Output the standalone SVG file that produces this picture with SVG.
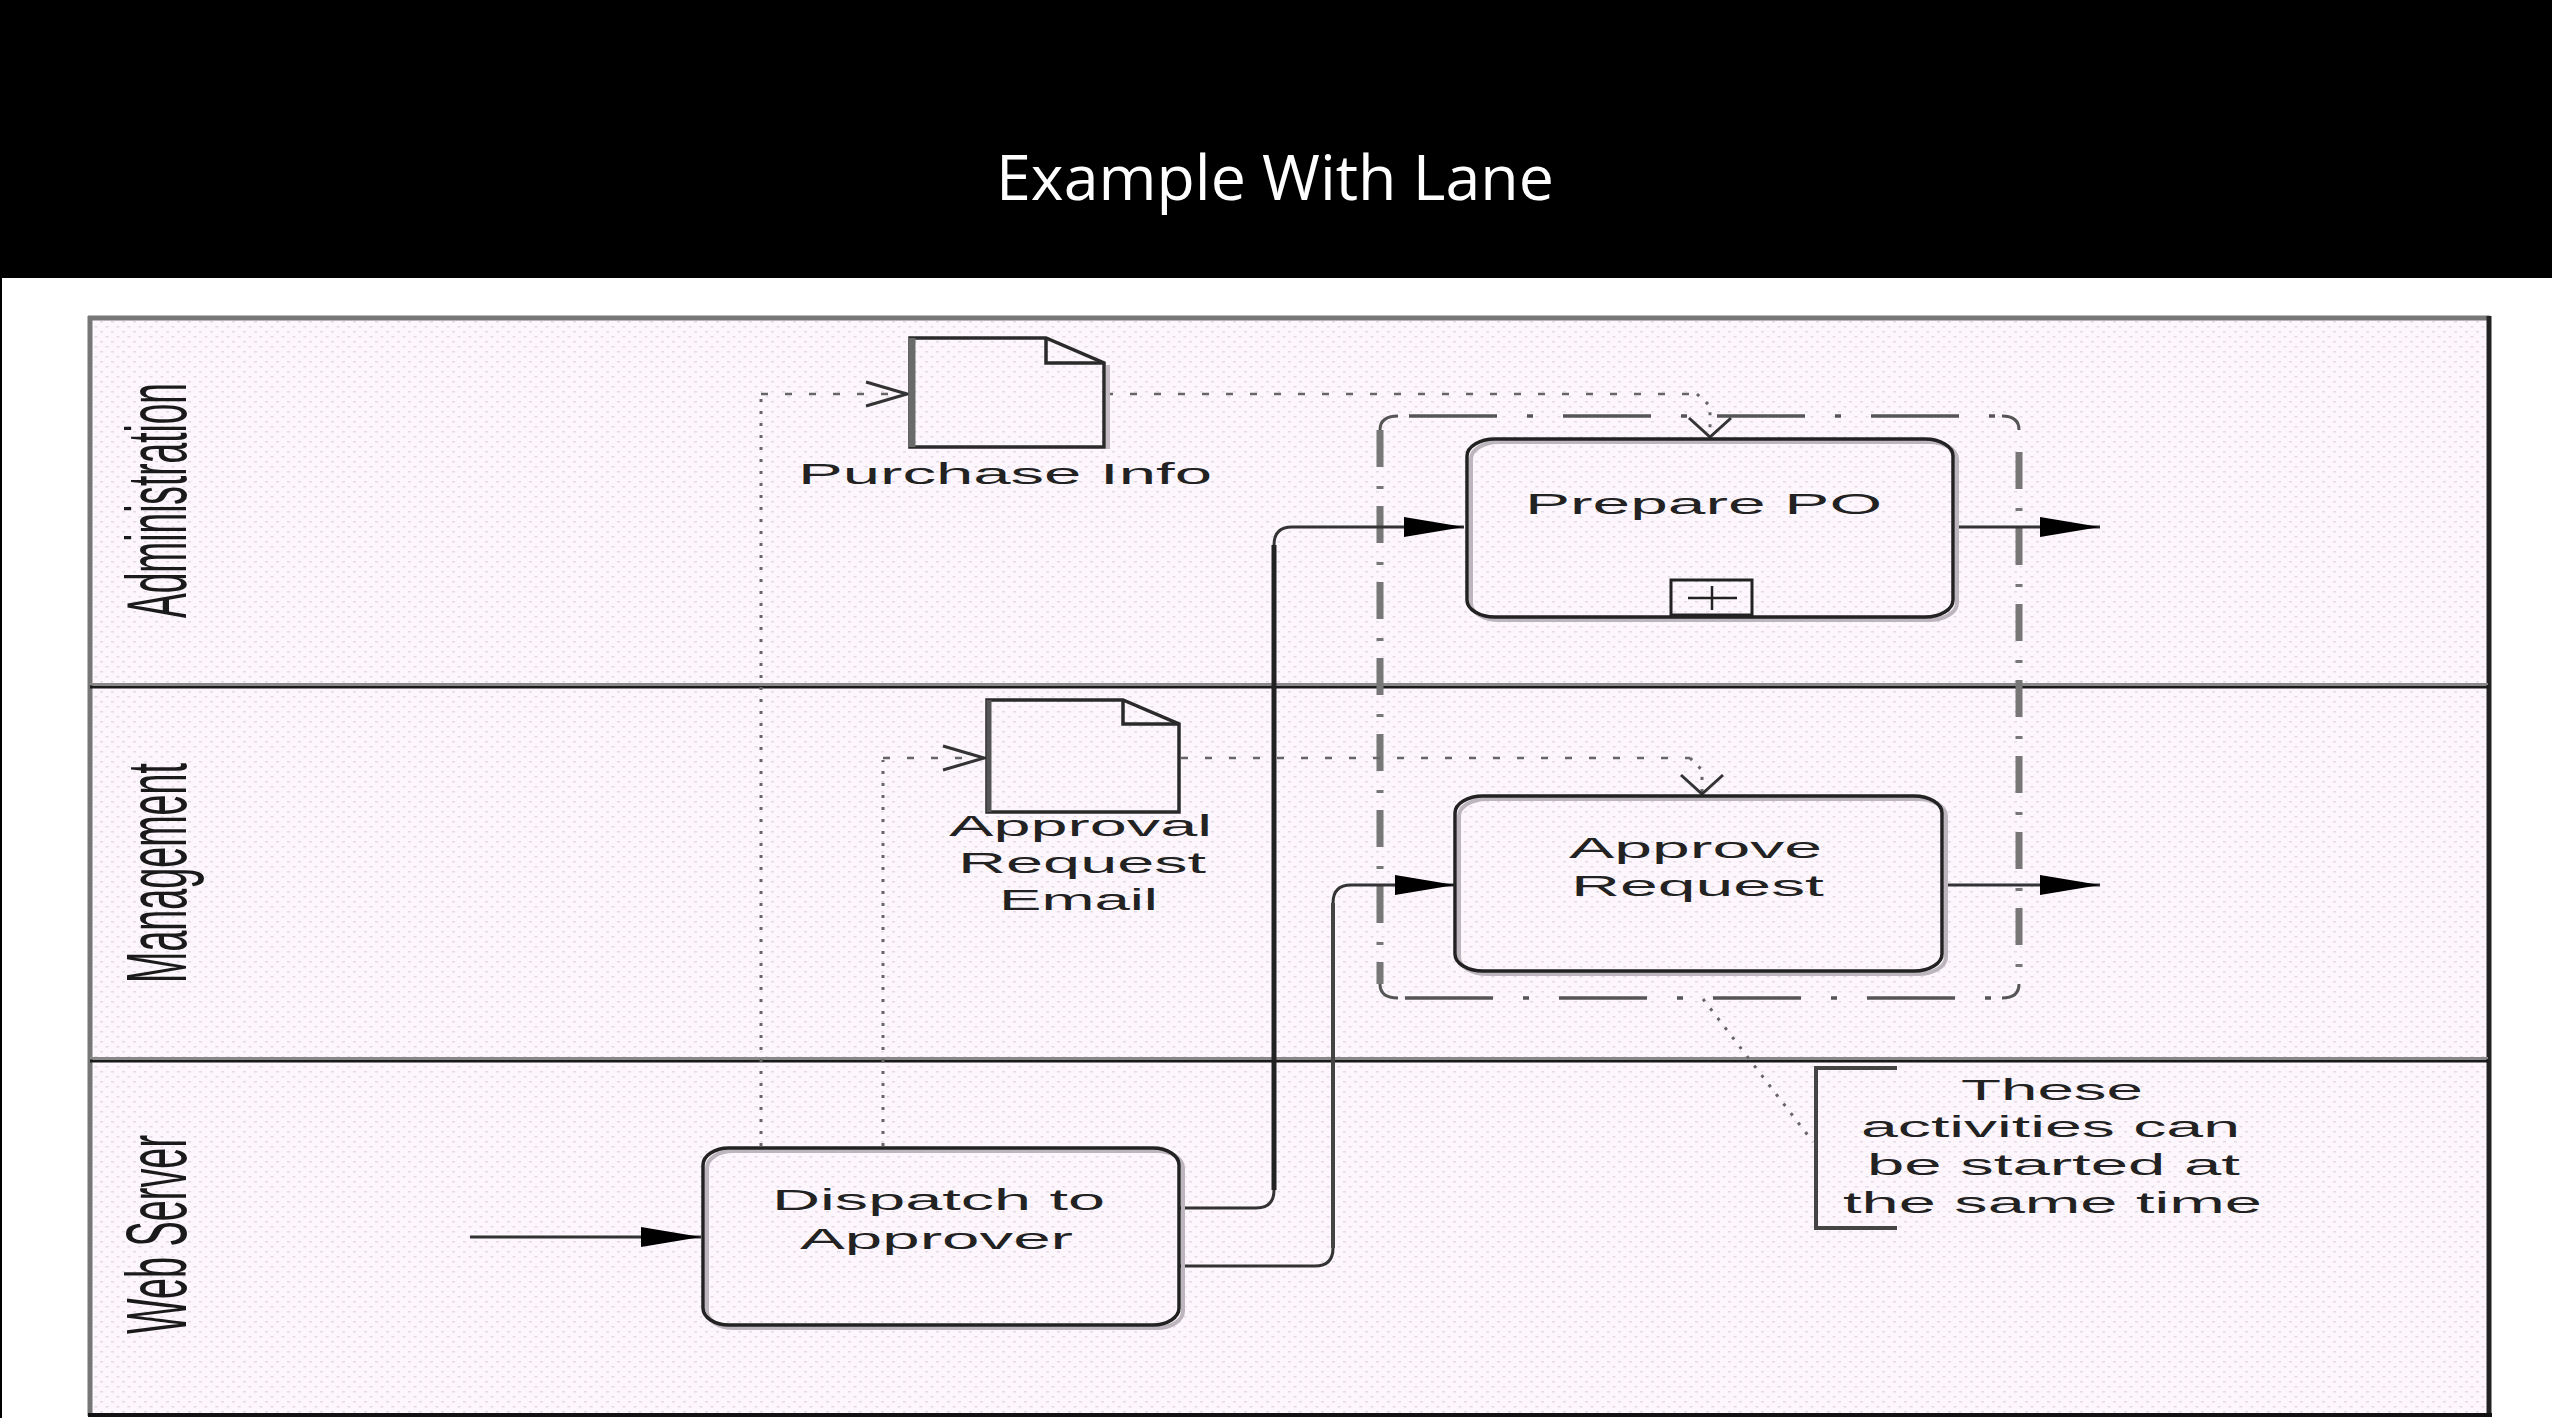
<svg xmlns="http://www.w3.org/2000/svg" width="2552" height="1418" viewBox="0 0 2552 1418">
  <defs>
    <pattern id="dots" width="11" height="10" patternUnits="userSpaceOnUse">
      <rect width="11" height="10" fill="#fdf7fd"/>
      <rect x="1" y="1" width="3" height="1.5" fill="#e4dae4"/>
      <rect x="6.5" y="6" width="3" height="1.5" fill="#e4dae4"/>
    </pattern>
    <marker id="arr" markerUnits="userSpaceOnUse" markerWidth="64" markerHeight="24" viewBox="0 0 64 24" refX="62" refY="12" orient="auto">
      <path d="M2,2 L62,12 L2,22 Z" fill="#000"/>
    </marker>
    <marker id="chevR" markerUnits="userSpaceOnUse" markerWidth="46" markerHeight="28" viewBox="0 0 46 28" refX="43" refY="14" orient="auto">
      <path d="M2,2 L43,14 L2,26" fill="none" stroke="#333" stroke-width="3"/>
    </marker>
    <marker id="chevD" markerUnits="userSpaceOnUse" markerWidth="24" markerHeight="48" viewBox="0 0 24 48" refX="21" refY="24" orient="auto">
      <path d="M2,3 L21,24 L2,45" fill="none" stroke="#333" stroke-width="3"/>
    </marker>
  </defs>
  <style>
    .lbl { font-family: "Liberation Sans", Arial, sans-serif; font-size: 30px; fill: #222; }
    .lane { font-family: "Liberation Sans", Arial, sans-serif; font-size: 86px; fill: #1a1a1a; }
    .title { font-family: "Open Sans", "Liberation Sans", sans-serif; font-size: 62px; fill: #fff; }
    .task { fill: none; stroke: #222; stroke-width: 3.5; }
    .shadow { fill: none; stroke: #bdb5bd; stroke-width: 4; }
    .flow { fill: none; stroke: #333; stroke-width: 3; }
    .dotv { fill: none; stroke: #666; stroke-width: 3; stroke-dasharray: 3 9; }
    .doth { fill: none; stroke: #666; stroke-width: 2.5; stroke-dasharray: 7 17; }
    .doc { fill: none; stroke: #2a2a2a; stroke-width: 3.5; stroke-linejoin: miter; }
    .grpH { fill: none; stroke: #555; stroke-width: 3.5; stroke-dasharray: 88 30 6 30; }
    .grpV { fill: none; stroke: #777; stroke-width: 7; stroke-dasharray: 37 19 3 17; }
  </style>

  <!-- header -->
  <rect x="0" y="0" width="2552" height="278" fill="#000"/>
  <rect x="0" y="278" width="2" height="1140" fill="#000"/>
  <text class="title" x="996" y="200" textLength="558" lengthAdjust="spacingAndGlyphs">Example With Lane</text>

  <!-- pool and lanes -->
  <g id="pool">
    <rect x="90" y="318" width="2398" height="1095" fill="url(#dots)"/>
    <line x1="88" y1="318" x2="2490" y2="318" stroke="#777" stroke-width="5"/>
    <line x1="90" y1="316" x2="90" y2="1416" stroke="#777" stroke-width="5"/>
    <line x1="2489" y1="316" x2="2489" y2="1416" stroke="#222" stroke-width="5"/>
    <line x1="88" y1="1415" x2="2492" y2="1415" stroke="#111" stroke-width="4"/>
  </g>
  <g id="lane-administration">
    <text class="lane" transform="translate(186,618) rotate(-90)" x="0" y="0" textLength="235" lengthAdjust="spacingAndGlyphs">Administration</text>
  </g>
  <g id="lane-management">
    <line x1="90" y1="684" x2="2488" y2="684" stroke="#888" stroke-width="2"/>
    <line x1="90" y1="687" x2="2488" y2="687" stroke="#1a1a1a" stroke-width="3"/>
    <text class="lane" transform="translate(186,983) rotate(-90)" x="0" y="0" textLength="220" lengthAdjust="spacingAndGlyphs">Management</text>
  </g>
  <g id="lane-webserver">
    <line x1="90" y1="1058" x2="2488" y2="1058" stroke="#888" stroke-width="2"/>
    <line x1="90" y1="1061" x2="2488" y2="1061" stroke="#1a1a1a" stroke-width="3"/>
    <text class="lane" transform="translate(186,1334) rotate(-90)" x="0" y="0" textLength="199" lengthAdjust="spacingAndGlyphs">Web Server</text>
  </g>

  <!-- group (dash-dot) -->
  <g id="group-parallel">
    <line class="grpH" x1="1409" y1="416" x2="2000" y2="416"/>
    <line class="grpH" x1="1405" y1="998" x2="2000" y2="998"/>
    <line class="grpV" x1="1380" y1="430" x2="1380" y2="984"/>
    <line class="grpV" x1="2019" y1="452" x2="2019" y2="984"/>
    <path d="M1380,430 Q1380,416 1398,416 M2002,416 Q2019,416 2019,430 M1380,984 Q1380,998 1398,998 M2002,998 Q2019,998 2019,984" fill="none" stroke="#555" stroke-width="3"/>
  </g>

  <!-- connectors -->
  <g id="connectors">
    <path class="flow" d="M470,1237 H701" marker-end="url(#arr)"/>
    <path class="flow" d="M1179,1208 H1256 Q1274,1208 1274,1190 V545 Q1274,527 1292,527 H1464" marker-end="url(#arr)"/>
    <line x1="1274" y1="1190" x2="1274" y2="545" stroke="#222" stroke-width="5"/>
    <path class="flow" d="M1179,1266 H1315 Q1333,1266 1333,1248 V903 Q1333,885 1351,885 H1455" marker-end="url(#arr)"/>
    <line x1="1333" y1="1248" x2="1333" y2="903" stroke="#444" stroke-width="4"/>
    <path class="flow" d="M1955,527 H2100" marker-end="url(#arr)"/>
    <path class="flow" d="M1944,885 H2100" marker-end="url(#arr)"/>

    <!-- data associations -->
    <line class="dotv" x1="761" y1="1146" x2="761" y2="396"/>
    <path class="doth" d="M761,394 H907" marker-end="url(#chevR)"/>
    <path class="doth" d="M1106,394 H1697"/>
    <path class="dotv" d="M1697,394 L1710,406 V437" marker-end="url(#chevD)"/>

    <line class="dotv" x1="883" y1="1146" x2="883" y2="760"/>
    <path class="doth" d="M883,758 H984" marker-end="url(#chevR)"/>
    <path class="doth" d="M1181,758 H1690"/>
    <path class="dotv" d="M1690,758 L1702,770 V794" marker-end="url(#chevD)"/>

    <line class="dotv" x1="1703" y1="999" x2="1813" y2="1142"/>
  </g>

  <!-- nodes -->
  <g id="node-purchase-info">
    <path class="doc" d="M910,338 H1046 L1104,363 V447 H910 Z"/>
    <path class="doc" d="M1046,338 V363 H1104"/>
    <line x1="912" y1="338" x2="912" y2="447" stroke="#6a6a6a" stroke-width="7"/>
    <line x1="1108" y1="365" x2="1108" y2="449" stroke="#c4bcc4" stroke-width="4"/>
    <text class="lbl" x="798" y="484" textLength="414" lengthAdjust="spacingAndGlyphs">Purchase Info</text>
  </g>

  <g id="node-approval-email">
    <path class="doc" d="M987,700 H1123 L1179,724 V812 H987 Z"/>
    <path class="doc" d="M1123,700 V724 H1179"/>
    <line x1="989" y1="700" x2="989" y2="812" stroke="#555" stroke-width="5"/>
    <text class="lbl" x="949" y="836" textLength="263" lengthAdjust="spacingAndGlyphs">Approval</text>
    <text class="lbl" x="958" y="873" textLength="248" lengthAdjust="spacingAndGlyphs">Request</text>
    <text class="lbl" x="999" y="910" textLength="159" lengthAdjust="spacingAndGlyphs">Email</text>
  </g>

  <g id="node-prepare-po">
    <rect class="shadow" x="1471" y="442" width="486" height="178" rx="28" ry="17"/>
    <rect class="task" x="1467" y="439" width="486" height="178" rx="28" ry="17"/>
    <text class="lbl" x="1525" y="514" textLength="357" lengthAdjust="spacingAndGlyphs">Prepare PO</text>
    <rect x="1671" y="580" width="81" height="35" fill="none" stroke="#222" stroke-width="3"/>
    <path d="M1688,598 H1737 M1712,586 V610" fill="none" stroke="#222" stroke-width="2.5"/>
  </g>

  <g id="node-approve-request">
    <rect class="shadow" x="1459" y="799" width="487" height="175" rx="28" ry="17"/>
    <rect class="task" x="1455" y="796" width="487" height="175" rx="28" ry="17"/>
    <text class="lbl" x="1569" y="858" textLength="253" lengthAdjust="spacingAndGlyphs">Approve</text>
    <text class="lbl" x="1571" y="896" textLength="253" lengthAdjust="spacingAndGlyphs">Request</text>
  </g>

  <g id="node-dispatch">
    <rect class="shadow" x="707" y="1151" width="476" height="177" rx="26" ry="17"/>
    <rect class="task" x="703" y="1148" width="476" height="177" rx="26" ry="17"/>
    <text class="lbl" x="772" y="1210" textLength="333" lengthAdjust="spacingAndGlyphs">Dispatch to</text>
    <text class="lbl" x="800" y="1249" textLength="273" lengthAdjust="spacingAndGlyphs">Approver</text>
  </g>

  <g id="node-annotation">
    <path d="M1897,1068 H1816 V1228 H1897" fill="none" stroke="#444" stroke-width="4"/>
    <text class="lbl" x="1961" y="1100" textLength="182" lengthAdjust="spacingAndGlyphs">These</text>
    <text class="lbl" x="1861" y="1137" textLength="379" lengthAdjust="spacingAndGlyphs">activities can</text>
    <text class="lbl" x="1867" y="1175" textLength="373" lengthAdjust="spacingAndGlyphs">be started at</text>
    <text class="lbl" x="1843" y="1213" textLength="419" lengthAdjust="spacingAndGlyphs">the same time</text>
  </g>
</svg>
